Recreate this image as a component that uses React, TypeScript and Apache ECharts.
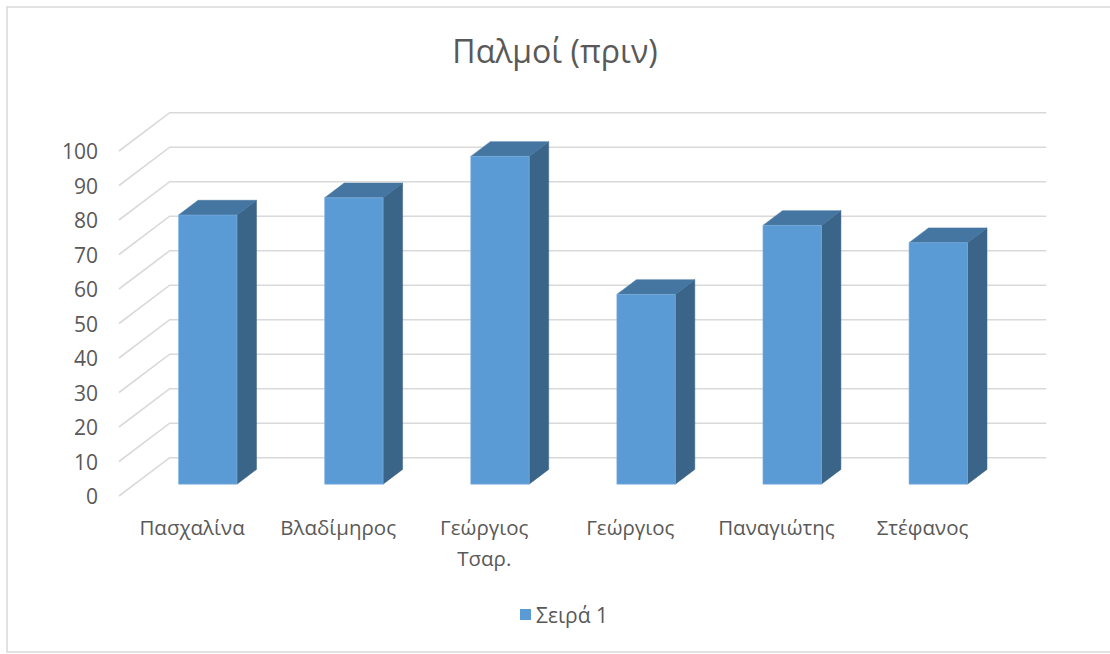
import React, { useEffect, useRef } from "react";
import * as echarts from "echarts";

const categories = ["Πασχαλίνα", "Βλαδίμηρος", "Γεώργιος\nΤσαρ.", "Γεώργιος", "Παναγιώτης", "Στέφανος"];
const seriesName = "Σειρά 1";
const values = [78, 83, 95, 55, 75, 70];
const yTicks = [0, 10, 20, 30, 40, 50, 60, 70, 80, 90, 100];
const titleText = "Παλμοί (πριν)";

const FONT = "'Open Sans', 'Noto Sans', sans-serif";
const TEXT = "#595959";
const DX = 50.7;
const DY = -38.3;
const F0 = 0.31;
const FD = 0.385;

export default function App() {
  const ref = useRef<HTMLDivElement>(null);
  useEffect(() => {
    if (!ref.current) return;
    const chart = echarts.init(ref.current, undefined, { renderer: "svg" });
    const option: any = {
      animation: false,
      color: ["#5B9BD5"],
      backgroundColor: "#ffffff",
      title: {
        text: titleText,
        left: "center",
        top: 29,
        textStyle: { fontFamily: FONT, fontSize: 32, fontWeight: "normal", color: TEXT },
      },
      legend: {
        data: [seriesName],
        left: 515,
        top: 599,
        icon: "rect",
        itemWidth: 11,
        itemHeight: 11,
        textStyle: { fontFamily: FONT, fontSize: 21, color: TEXT },
      },
      graphic: [
        {
          type: "rect",
          shape: { x: 7, y: 7, width: 1110, height: 645 },
          style: { fill: "none", stroke: "#D9D9D9", lineWidth: 1.5 },
          silent: true,
        },
      ],
      grid: { left: 119, top: 151, width: 876.6, height: 345 },
      xAxis: {
        type: "category",
        data: categories,
        axisLine: { show: false },
        axisTick: { show: false },
        splitLine: { show: false },
        axisLabel: { fontFamily: FONT, fontSize: 20.5, color: TEXT, margin: 15, lineHeight: 31, interval: 0 },
      },
      yAxis: {
        type: "value",
        min: 0,
        max: 100,
        interval: 10,
        axisLine: { show: false },
        axisTick: { show: false },
        splitLine: { show: false },
        axisLabel: { fontFamily: FONT, fontSize: 21, color: TEXT, margin: 21 },
      },
      series: [
        {
          type: "custom",
          name: "grid3d",
          silent: true,
          z: 1,
          data: yTicks.map((v) => [0, v]),
          renderItem: (params: any, api: any) => {
            const cs = params.coordSys;
            const y = api.coord([0, api.value(1)])[1];
            const x0 = cs.x;
            const x1 = cs.x + cs.width;
            return {
              type: "polyline",
              shape: { points: [[x0, y], [x0 + DX, y + DY], [x1 + DX, y + DY]] },
              style: { fill: "none", stroke: "#D9D9D9", lineWidth: 1.6 },
            };
          },
        },
        {
          type: "custom",
          name: seriesName,
          z: 2,
          data: values.map((v, i) => [i, v]),
          renderItem: (params: any, api: any) => {
            const i = api.value(0);
            const v = api.value(1);
            const base = api.coord([i, 0]);
            const top = api.coord([i, v]);
            const band = api.size([1, 0])[0];
            const w = band * 0.4;
            const x = base[0] - w / 2 + F0 * DX;
            const yb = base[1] + F0 * DY;
            const yt = top[1] + F0 * DY;
            const dx = FD * DX;
            const dy = FD * DY;
            return {
              type: "group",
              children: [
                {
                  type: "polygon",
                  shape: { points: [[x + w, yt], [x + w + dx, yt + dy], [x + w + dx, yb + dy], [x + w, yb]] },
                  style: { fill: "#3A6589", stroke: "#3A6589", lineWidth: 0.5 },
                },
                {
                  type: "polygon",
                  shape: { points: [[x, yt], [x + w, yt], [x + w + dx, yt + dy], [x + dx, yt + dy]] },
                  style: { fill: "#4575A1", stroke: "#4575A1", lineWidth: 0.5 },
                },
                {
                  type: "rect",
                  shape: { x, y: yt, width: w, height: yb - yt },
                  style: { fill: "#5B9BD5", stroke: "#7FB0DD", lineWidth: 0.6 },
                },
              ],
            };
          },
        },
      ],
    };
    chart.setOption(option);
    return () => chart.dispose();
  }, []);
  return (
    <div
      ref={ref}
      style={{ position: "absolute", left: 0, top: 0, width: 1110, height: 654, background: "#fff" }}
    />
  );
}
